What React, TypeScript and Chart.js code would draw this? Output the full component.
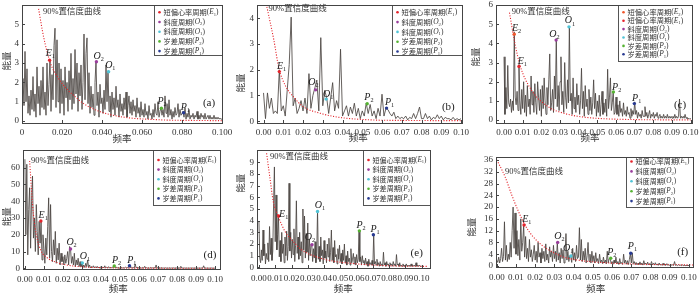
import React, { useEffect, useRef } from 'react';
import { Chart, registerables } from 'chart.js';
Chart.register(...registerables);

// ---------------- DATA ----------------
const STEP_FINE = 0.0005;
const STEP_COARSE = 0.001;

// (a) spectrum power, frequency = index * STEP_FINE
const powerA = [
  0.5, 2.2, 0.8, 3.6, 1.0, 2.7, 0.4, 1.3, 0.3, 1.6, 0.6,
  2.3, 0.5, 1.4, 0.2, 2.8, 0.9, 1.8, 0.3, 2.1, 0.7,
  2.8, 0.6, 1.5, 0.3, 3.0, 0.8, 1.9, 3.2, 0.5, 2.4,
  1.1, 3.9, 4.8, 0.7, 4.2, 1.0, 3.0, 0.4, 2.7, 0.9,
  2.1, 0.3, 2.8, 1.2, 2.0, 0.5, 2.6, 1.1, 3.5, 0.6,
  2.2, 0.9, 3.7, 1.4, 3.0, 0.5, 2.5, 1.3, 2.9, 0.6,
  2.0, 4.5, 1.1, 3.5, 4.3, 0.9, 2.5, 0.4, 1.8, 0.7,
  1.4, 0.3, 2.0, 3.1, 0.8, 1.5, 0.2, 1.9, 0.9, 1.2,
  0.4, 1.6, 0.6, 2.9, 1.0, 2.6, 0.5, 1.3, 0.2, 1.5,
  0.6, 1.2, 0.3, 1.8, 0.7, 1.1, 0.2, 1.4, 0.5, 0.9,
  0.3, 1.2, 0.6, 1.5, 0.2, 0.8, 1.3, 0.4, 1.0, 0.3,
  1.1, 0.5, 0.8, 0.2, 1.2, 0.4, 0.7, 0.2, 1.0, 0.3,
  0.6, 0.2, 0.9, 0.3, 0.5, 0.1, 0.8, 0.3, 0.4, 0.1,
  0.6, 0.2, 0.9, 0.4, 0.3, 1.0, 0.2, 0.5, 0.7, 0.3,
  0.6, 0.2, 1.3, 0.4, 0.9, 0.2, 1.1, 0.3, 0.6, 0.1,
  0.5, 0.2, 0.7, 0.3, 0.4, 0.9, 0.2, 0.6, 0.3, 0.4,
  0.5, 0.2, 0.7, 0.1, 0.4, 0.2, 0.6, 0.1, 0.3, 0.2,
  0.4, 0.1, 0.3, 0.2, 0.5, 0.1, 0.3, 0.1, 0.4, 0.2,
  0.3, 0.1, 0.4, 0.1, 0.2, 0.3, 0.1, 0.3, 0.1, 0.2,
  0.1, 0.3, 0.1, 0.2, 0.1, 0.2, 0.1, 0.15, 0.1, 0.1,
];

// (b) spectrum power, frequency = index * STEP_COARSE
const powerB = [
  1.1, 0.1, 1.1, 0.5, 0.9, 0.3, 0.4, 0.3, 2.0, 0.4,
  0.6, 0.2, 1.2, 2.2, 4.05, 0.6, 0.9, 0.3, 0.5, 0.8,
  0.4, 0.9, 0.3, 1.85, 0.5, 1.0, 1.3, 1.6, 0.4, 3.25,
  0.6, 1.2, 0.9, 0.3, 0.9, 1.5, 0.4, 0.8, 0.5, 2.8,
  0.2, 0.4, 0.6, 0.2, 0.55, 0.3, 0.7, 0.2, 0.5, 0.1,
  0.4, 0.2, 0.7, 0.3, 0.65, 0.2, 0.4, 0.1, 0.5, 0.2,
  1.05, 0.2, 0.5, 0.45, 0.3, 0.2, 0.35, 0.1, 0.2, 0.1,
  0.15, 0.1, 0.2, 0.05, 0.15, 0.1, 0.3, 0.1, 0.3, 0.55,
  0.1, 0.1, 0.3, 0.1, 0.2, 0.05, 0.15, 0.1, 0.25, 0.1,
  0.2, 0.05, 0.15, 0.1, 0.1, 0.05, 0.15, 0.05, 0.1, 0.05, 0.1,
];

// (c) spectrum power, frequency = index * STEP_FINE
const powerC = [
  3.3, 0.3, 1.7, 0.6, 2.85, 0.9, 0.7, 1.1, 0.4, 1.0, 0.5,
  4.6, 1.2, 0.8, 1.5, 0.5, 2.9, 1.0, 0.3, 1.6, 0.6,
  2.0, 0.4, 1.3, 0.2, 1.8, 0.7, 1.1, 0.3, 2.3, 0.8,
  1.5, 0.4, 1.9, 0.9, 0.3, 2.0, 1.2, 0.5, 1.6, 0.2,
  1.8, 0.6, 2.2, 1.0, 0.3, 1.7, 0.8, 2.1, 3.45, 0.5,
  0.9, 1.6, 0.4, 2.3, 1.1, 4.25, 0.7, 1.8, 0.5, 2.0,
  3.3, 0.8, 1.5, 0.4, 3.0, 1.2, 0.6, 2.1, 0.9, 4.9,
  1.0, 1.4, 0.3, 2.2, 0.6, 1.2, 0.4, 1.9, 0.8, 1.3,
  0.3, 1.0, 2.7, 0.6, 1.5, 0.2, 1.8, 0.7, 1.1, 0.3,
  1.6, 0.5, 1.2, 0.3, 0.9, 2.1, 0.6, 1.4, 0.2, 1.0,
  0.4, 1.3, 0.2, 0.8, 1.5, 0.3, 0.9, 0.4, 1.1, 0.2,
  2.65, 0.6, 1.2, 2.2, 0.5, 0.9, 1.5, 0.3, 0.4, 1.2,
  0.3, 0.8, 0.2, 1.0, 0.4, 0.6, 0.2, 0.9, 0.3, 0.5,
  0.2, 0.7, 0.3, 0.4, 0.1, 0.6, 0.2, 0.5, 0.3, 0.95,
  0.3, 0.5, 0.1, 0.4, 0.2, 0.3, 0.1, 0.5, 0.2, 0.2,
  0.7, 0.2, 0.4, 0.1, 0.3, 0.5, 0.1, 0.3, 0.2, 0.4,
  0.1, 0.3, 0.2, 0.4, 0.1, 0.2, 0.3, 0.1, 0.2, 0.1,
  0.3, 0.1, 0.2, 0.1, 0.3, 0.1, 0.2, 0.1, 0.2, 0.1,
  0.2, 0.1, 0.3, 0.1, 0.2, 0.1, 0.2, 1.1, 0.1, 0.2,
  0.1, 0.2, 0.1, 0.3, 0.1, 0.15, 0.05, 0.1, 0.05, 0.1,
];

// (d) spectrum power, frequency = index * STEP_FINE
const powerD = [
  65, 20, 62, 8, 35, 48, 12, 40, 55, 18, 30,
  10, 38, 22, 8, 28, 15, 28, 5, 20, 12,
  3, 18, 8, 25, 42, 6, 38, 10, 4, 17,
  8, 22, 3, 12, 5, 15, 2, 9, 4, 7,
  2, 8, 3, 6, 10, 2, 13, 11.5, 3, 7,
  2, 9, 1, 5, 2, 6, 1, 4, 1, 3.5,
  1, 2, 0.5, 3, 1, 5, 0.5, 2, 0.3, 1,
  0.5, 1.5, 0.3, 1, 0.2, 1.2, 0.3, 0.8, 0.2, 1,
  0.3, 0.8, 0.2, 1.5, 0.3, 0.6, 0.2, 1, 0.2, 0.5,
  0.2, 0.8, 0.3, 1.5, 0.3, 0.7, 0.2, 0.5, 0.1, 0.4,
  0.2, 0.6, 0.1, 0.4, 0.2, 0.7, 0.2, 0.5, 0.1, 1.8,
  0.3, 0.9, 0.2, 0.5, 0.1, 2.5, 0.3, 0.8, 0.2, 0.6,
  0.2, 0.4, 0.1, 0.5, 0.1, 1.2, 0.2, 0.4, 0.1, 0.3,
  0.1, 0.5, 0.2, 0.3, 0.1, 0.4, 0.1, 2.0, 0.2, 0.3,
  0.1, 0.3, 0.1, 0.4, 0.1, 0.2, 0.1, 0.3, 0.1, 0.2,
  0.1, 0.3, 0.1, 0.2, 0.1, 0.3, 0.1, 0.2, 0.1, 0.3,
  0.1, 0.2, 0.1, 1.2, 0.1, 0.2, 0.1, 0.2, 0.1, 0.2,
  0.1, 0.2, 0.1, 0.2, 0.1, 0.2, 0.1, 0.2, 0.1, 0.2,
  0.1, 0.2, 0.1, 0.2, 0.1, 0.2, 0.1, 1.5, 0.1, 0.2,
  0.1, 0.2, 0.1, 0.1, 0.1, 0.2, 0.1, 0.1, 0.1, 0.1,
];

// (e) spectrum power, frequency = index * STEP_FINE
const powerE = [
  3.9, 0.8, 0.4, 1.5, 0.6, 3.2, 1.0, 2.0, 0.3, 1.2, 0.7,
  2.1, 0.5, 3.5, 1.1, 2.5, 0.6, 1.4, 5.5, 8.6, 2.2,
  6.2, 1.5, 2.8, 4.4, 0.9, 2.3, 0.5, 3.0, 1.2, 2.0,
  0.4, 2.6, 1.0, 3.1, 0.6, 1.8, 7.2, 1.4, 3.0, 0.8,
  2.4, 1.1, 3.3, 0.5, 1.9, 5.7, 1.2, 2.6, 0.7, 3.0,
  1.0, 2.2, 0.4, 5.0, 1.5, 4.4, 0.8, 2.9, 1.3, 3.8,
  0.6, 2.4, 1.0, 2.0, 1.9, 0.5, 1.6, 0.8, 2.2, 0.4,
  1.2, 4.9, 0.7, 1.8, 0.5, 2.6, 1.0, 1.5, 0.3, 2.3,
  0.8, 1.4, 0.4, 2.0, 0.9, 2.5, 0.5, 1.3, 3.2, 0.6,
  1.7, 0.4, 2.3, 0.9, 1.1, 0.3, 1.6, 0.7, 1.9, 0.5,
  1.2, 0.3, 1.5, 0.6, 2.0, 0.4, 1.0, 0.2, 1.4, 0.5,
  0.8, 0.2, 1.6, 0.4, 0.7, 1.2, 0.3, 0.9, 0.2, 1.1,
  0.4, 0.7, 3.1, 0.5, 0.9, 0.2, 1.0, 0.4, 0.6, 0.2,
  0.8, 0.3, 0.5, 0.1, 0.7, 0.3, 0.4, 0.2, 0.6, 0.2,
  2.8, 0.3, 0.5, 0.2, 0.7, 0.2, 0.4, 0.1, 0.5, 0.2,
  0.3, 0.1, 1.3, 0.2, 0.4, 0.1, 0.5, 0.2, 0.3, 0.1,
  0.4, 0.2, 0.3, 0.1, 0.5, 0.2, 0.3, 0.1, 1.1, 0.2,
  0.3, 0.1, 0.4, 0.1, 0.2, 0.1, 0.3, 0.1, 0.2, 0.1,
  0.3, 0.1, 0.2, 0.1, 0.2, 0.1, 0.3, 0.1, 0.2, 0.1,
  0.2, 0.1, 0.4, 0.1, 0.2, 0.1, 0.2, 0.1, 0.1, 0.1,
];

// (f) spectrum power, frequency = index * STEP_FINE
const powerF = [
  2.0, 1.2, 3.0, 1.0, 2.5, 6.0, 1.5, 3.2, 15.0, 2.0, 7.0,
  1.5, 4.0, 2.2, 8.0, 3.0, 12.0, 20.0, 6.0, 18.0, 4.0,
  12.0, 3.5, 9.0, 2.0, 16.0, 5.0, 8.0, 13.9, 3.0, 10.0,
  2.5, 6.0, 1.5, 9.0, 3.0, 5.5, 1.5, 4.0, 7.0, 2.0,
  5.0, 1.2, 8.0, 3.0, 4.5, 1.0, 6.0, 2.5, 5.0, 1.5,
  7.5, 2.0, 4.0, 1.0, 6.5, 3.0, 5.0, 1.5, 7.0, 2.5,
  5.0, 1.5, 8.0, 2.0, 4.5, 1.0, 6.0, 2.5, 5.5, 1.0,
  4.0, 11.0, 2.0, 5.0, 1.5, 3.5, 3.4, 1.2, 6.0, 2.0,
  4.5, 1.5, 7.0, 2.5, 3.0, 13.0, 2.0, 9.0, 1.5, 5.0,
  2.0, 6.0, 1.0, 3.5, 8.0, 1.5, 4.0, 1.0, 5.0, 1.5,
  3.5, 1.0, 4.5, 1.5, 2.5, 0.8, 4.0, 1.2, 2.0, 0.8,
  3.0, 1.0, 2.0, 0.7, 5.0, 1.0, 2.5, 2.6, 0.8, 1.5,
  0.6, 2.0, 1.0, 3.0, 0.7, 1.5, 0.5, 2.5, 0.8, 1.2,
  0.5, 4.0, 1.0, 2.0, 0.6, 1.8, 0.5, 2.2, 4.3, 1.0,
  4.5, 0.8, 1.5, 0.5, 1.2, 0.4, 1.0, 0.5, 1.4, 0.4,
  1.0, 0.3, 1.8, 0.5, 1.0, 0.3, 1.3, 0.4, 0.8, 0.3,
  1.5, 0.4, 0.9, 0.3, 1.1, 0.3, 0.7, 0.2, 1.0, 0.3,
  0.6, 0.2, 0.9, 0.3, 0.5, 0.2, 0.8, 0.2, 0.5, 0.2,
  0.6, 0.2, 0.4, 0.2, 1.5, 0.2, 0.4, 0.1, 0.5, 0.2,
  0.3, 0.1, 0.4, 0.1, 0.3, 0.1, 0.2, 0.1, 0.2, 0.1,
];

// 90% confidence curves (read points)
const confFreqA = [0.0083, 0.0108, 0.0142, 0.0183, 0.0225, 0.0267, 0.0308, 0.0392, 0.0475, 0.0558, 0.0642, 0.0725, 0.089, 0.1];
const confPowerA = [5.8, 4.35, 3.0, 2.2, 1.65, 1.25, 0.9, 0.48, 0.26, 0.14, 0.09, 0.05, 0.03, 0.02];
const confFreqB = [0.0017, 0.0052, 0.0078, 0.0113, 0.0157, 0.02, 0.0287, 0.0374, 0.0548, 0.072, 0.1];
const confPowerB = [4.45, 3.17, 2.06, 1.35, 0.9, 0.57, 0.31, 0.16, 0.05, 0.03, 0.02];
const confFreqC = [0.0029, 0.0059, 0.0086, 0.0148, 0.0238, 0.0327, 0.0416, 0.0505, 0.0684, 0.1];
const confPowerC = [5.6, 3.97, 2.84, 1.55, 0.69, 0.34, 0.17, 0.09, 0.03, 0.01];
const confFreqD = [0.0025, 0.0035, 0.0045, 0.006, 0.0085, 0.012, 0.016, 0.022, 0.03, 0.045, 0.07, 0.1];
const confPowerD = [64, 46, 32, 20, 10.5, 6, 3.8, 2.0, 0.9, 0.3, 0.1, 0.05];
const confFreqE = [0.0047, 0.0068, 0.0088, 0.0119, 0.016, 0.0211, 0.0262, 0.0365, 0.0467, 0.057, 0.0672, 0.0877, 0.104];
const confPowerE = [9.77, 7.6, 5.64, 4.36, 3.08, 2.22, 1.51, 0.85, 0.51, 0.34, 0.23, 0.11, 0.09];
const confFreqF = [0, 0.0009, 0.0043, 0.0078, 0.0113, 0.0147, 0.0182, 0.0234, 0.0286, 0.0355, 0.0442, 0.0529, 0.0702, 0.0875, 0.1022];
const confPowerF = [36, 34.9, 30.3, 24.1, 18.5, 13.9, 10.5, 7.1, 4.9, 2.9, 1.8, 1.25, 0.68, 0.45, 0.35];

// marked cycles
const markerKeysA = ['E1', 'O2', 'O1', 'P2', 'P1'];
const markerFreqA = [0.0138, 0.0372, 0.0433, 0.0697, 0.0808];
const markerPowerA = [3.15, 3.07, 2.55, 0.66, 0.43];
const markerKeysB = ['E1', 'O2', 'O1', 'P2', 'P1'];
const markerFreqB = [0.008, 0.0264, 0.0317, 0.0525, 0.0623];
const markerPowerB = [1.93, 1.22, 0.86, 0.68, 0.51];
const markerKeysC = ['E2', 'E1', 'O2', 'O1', 'P2', 'P1'];
const markerFreqC = [0.0055, 0.008, 0.0279, 0.0348, 0.0586, 0.0698];
const markerPowerC = [4.48, 2.8, 4.17, 4.86, 1.47, 0.86];
const markerKeysD = ['E1', 'O2', 'O1', 'P2', 'P1'];
const markerFreqD = [0.0084, 0.024, 0.0302, 0.047, 0.055];
const markerPowerD = [28.2, 11.5, 3.2, 1.4, 1.6];
const markerKeysE = ['E1', 'O2', 'O1', 'P2', 'P1'];
const markerFreqE = [0.0121, 0.0326, 0.036, 0.0617, 0.0703];
const markerPowerE = [4.4, 1.94, 4.79, 3.13, 2.8];
const markerKeysF = ['E1', 'O2', 'O1', 'P2', 'P1'];
const markerFreqF = [0.0142, 0.0317, 0.0386, 0.0593, 0.0697];
const markerPowerF = [13.9, 8.0, 3.4, 2.6, 4.3];

// ticks
const xTicksA = [0, 0.02, 0.04, 0.06, 0.08, 0.1];
const xTickLabelsA = ['0', '0.020', '0.040', '0.060', '0.080', '0.100'];
const xTicksB = [0, 0.01, 0.02, 0.03, 0.04, 0.05, 0.06, 0.07, 0.08, 0.09, 0.1];
const xTickLabelsB = ['0.00', '0.01', '0.02', '0.03', '0.04', '0.05', '0.06', '0.07', '0.08', '0.09', '0.10'];
const yTicksA = [0, 1, 2, 3, 4, 5];
const yTicksB = [0, 1, 2, 3, 4];
const yTicksC = [0, 1, 2, 3, 4, 5, 6];
const yTicksD = [0, 10, 20, 30, 40, 50, 60];
const yTicksE = [0, 1, 2, 3, 4, 5, 6, 7, 8, 9];
const yTicksF = [0, 4, 8, 12, 16, 20, 24, 28, 32, 36];

const panelLabels = ['(a)', '(b)', '(c)', '(d)', '(e)', '(f)'];

// ---------------- STYLE / LAYOUT ----------------
const SERIF = '"Liberation Serif", "Times New Roman", serif';
const CJK = '"Noto Sans CJK SC", sans-serif';
const MIX = '"Liberation Serif", "Noto Sans CJK SC", serif';
const COLORS: Record<string, string> = {
  E1: '#e5232b', E2: '#f0572c', O2: '#9a3d9c', O1: '#4fc3d6', P2: '#55b332', P1: '#283a92',
};
const NAMES: Record<string, string> = { E: '短偏心率周期', O: '斜度周期', P: '岁差周期' };

type Panel = {
  cx: number; cy: number; cw: number; ch: number;
  L: number; T: number; R: number; B: number;
  xmin: number; xmax: number; ymin: number; ymax: number;
  step: number; power: number[];
  confF: number[]; confP: number[];
  mKeys: string[]; mF: number[]; mP: number[]; mOff: number[][];
  xTicks: number[]; xLabels: string[]; yTicks: number[];
  xPad: number;
  legend: { w: number; h: number; first: number; gap: number };
  confLabel: [number, number];
  panelLabel: string; plOff: [number, number];
  xTitle: [number, number]; yTitle: [number, number];
};

const panels: Panel[] = [
  {
    cx: 0, cy: 0, cw: 245, ch: 145, L: 22, T: 5, R: 222, B: 123,
    xmin: 0, xmax: 0.1, ymin: -0.1, ymax: 6.0, step: STEP_FINE, power: powerA,
    confF: confFreqA, confP: confPowerA,
    mKeys: markerKeysA, mF: markerFreqA, mP: markerPowerA,
    mOff: [[0.7, -6.7], [2.3, -5.7], [1.7, -6.7], [0.7, -6.7], [1.7, -5.3]],
    xTicks: xTicksA, xLabels: xTickLabelsA, yTicks: yTicksA, xPad: 4,
    legend: { w: 68, h: 50, first: 7.3, gap: 9.7 },
    confLabel: [21, 7], panelLabel: panelLabels[0], plOff: [13, 20],
    xTitle: [122, 138.5], yTitle: [6, 61],
  },
  {
    cx: 235, cy: 0, cw: 240, ch: 145, L: 22, T: 5, R: 227, B: 123,
    xmin: -0.0033, xmax: 0.1005, ymin: -0.07, ymax: 4.52, step: STEP_COARSE, power: powerB,
    confF: confFreqB, confP: confPowerB,
    mKeys: markerKeysB, mF: markerFreqB, mP: markerPowerB,
    mOff: [[2.3, -5], [-2.3, -7.7], [2, -5], [1.7, -6.3], [3, -5.7]],
    xTicks: xTicksB, xLabels: xTickLabelsB, yTicks: yTicksB, xPad: 4,
    legend: { w: 70, h: 50, first: 7.3, gap: 9.8 },
    confLabel: [11.6, 3.5], panelLabel: panelLabels[1], plOff: [13.7, 15.7],
    xTitle: [123.3, 137.5], yTitle: [5, 83],
  },
  {
    cx: 465, cy: 0, cw: 235, ch: 145, L: 31, T: 5, R: 227, B: 123,
    xmin: -0.0043, xmax: 0.1007, ymin: -0.15, ymax: 6.0, step: STEP_FINE, power: powerC,
    confF: confFreqC, confP: confPowerC,
    mKeys: markerKeysC, mF: markerFreqC, mP: markerPowerC,
    mOff: [[2.3, -6], [3.3, -5.3], [-1.7, -6], [1, -6], [3.3, -4.3], [2.3, -5.7]],
    xTicks: xTicksB, xLabels: xTickLabelsB, yTicks: yTicksC, xPad: 4,
    legend: { w: 74, h: 56, first: 7.3, gap: 8.4 },
    confLabel: [15.7, 6.7], panelLabel: panelLabels[2], plOff: [12, 17.7],
    xTitle: [125, 137.5], yTitle: [10.7, 57],
  },
  {
    cx: 0, cy: 145, cw: 245, ch: 148, L: 23, T: 5, R: 220, B: 124,
    xmin: -0.001, xmax: 0.1026, ymin: -0.4, ymax: 70.5, step: STEP_FINE, power: powerD,
    confF: confFreqD, confP: confPowerD,
    mKeys: markerKeysD, mF: markerFreqD, mP: markerPowerD,
    mOff: [[2.3, -5.3], [1, -6.3], [2.7, -6.3], [2.3, -5.7], [2.3, -5.7]],
    xTicks: xTicksB, xLabels: xTickLabelsB, yTicks: yTicksD, xPad: 5,
    legend: { w: 67, h: 55, first: 10, gap: 9.6 },
    confLabel: [8, 11], panelLabel: panelLabels[3], plOff: [10, 14],
    xTitle: [118.3, 143], yTitle: [6, 71.7],
  },
  {
    cx: 235, cy: 145, cw: 240, ch: 148, L: 22, T: 5, R: 195, B: 123,
    xmin: -0.0012, xmax: 0.1051, ymin: -0.05, ymax: 10.05, step: STEP_FINE, power: powerE,
    confF: confFreqE, confP: confPowerE,
    mKeys: markerKeysE, mF: markerFreqE, mP: markerPowerE,
    mOff: [[5, -2], [-2, -7], [2.3, -5.7], [1.7, -5.3], [1.7, -5]],
    xTicks: xTicksB, xLabels: xTickLabelsB, yTicks: yTicksE, xPad: 5,
    legend: { w: 67, h: 55, first: 10, gap: 9.6 },
    confLabel: [13, 6.7], panelLabel: panelLabels[4], plOff: [13.3, 15.3],
    xTitle: [108.3, 143], yTitle: [5, 38.3],
  },
  {
    cx: 465, cy: 145, cw: 235, ch: 148, L: 31, T: 12, R: 228, B: 122,
    xmin: -0.0004, xmax: 0.1021, ymin: -0.35, ymax: 37, step: STEP_FINE, power: powerF,
    confF: confFreqF, confP: confPowerF,
    mKeys: markerKeysF, mF: markerFreqF, mP: markerPowerF,
    mOff: [[2.7, -6], [1.7, -5.7], [-2.7, -7.7], [1, -6], [1.7, -6.7]],
    xTicks: xTicksB, xLabels: xTickLabelsB, yTicks: yTicksF, xPad: 5,
    legend: { w: 67, h: 50, first: 4.5, gap: 9.9 },
    confLabel: [9, 14.7], panelLabel: panelLabels[5], plOff: [10.3, 15.3],
    xTitle: [130.7, 143.5], yTitle: [6.7, 82.3],
  },
];

// ---------------- DRAWING HELPERS ----------------
function symWidth(ctx: CanvasRenderingContext2D, key: string, size: number) {
  ctx.font = `italic ${size}px ${SERIF}`;
  const w1 = ctx.measureText(key[0]).width;
  ctx.font = `${size * 0.62}px ${SERIF}`;
  const w2 = ctx.measureText(key.slice(1)).width;
  return w1 + w2;
}

function drawSym(ctx: CanvasRenderingContext2D, key: string, x: number, y: number, size: number) {
  ctx.textAlign = 'left';
  ctx.textBaseline = 'middle';
  ctx.font = `italic ${size}px ${SERIF}`;
  const w1 = ctx.measureText(key[0]).width;
  ctx.fillText(key[0], x, y);
  ctx.font = `${size * 0.62}px ${SERIF}`;
  ctx.fillText(key.slice(1), x + w1, y + size * 0.3);
  return w1 + ctx.measureText(key.slice(1)).width;
}

function legendLineWidth(ctx: CanvasRenderingContext2D, key: string, cjk: number, lat: number) {
  ctx.font = `${cjk}px ${CJK}`;
  let w = ctx.measureText(NAMES[key[0]]).width;
  ctx.font = `${lat}px ${SERIF}`;
  w += ctx.measureText('()').width;
  w += symWidth(ctx, key, lat);
  return w;
}

function drawDecor(chart: any, p: Panel) {
  const ctx: CanvasRenderingContext2D = chart.ctx;
  const area = chart.chartArea;
  const xs = chart.scales.x;
  const ys = chart.scales.y;
  const left = Math.round(area.left), right = Math.round(area.right);
  const top = Math.round(area.top), bottom = Math.round(area.bottom);
  ctx.save();

  // inward tick marks
  ctx.strokeStyle = '#444';
  ctx.lineWidth = 1;
  ctx.beginPath();
  p.xTicks.forEach((v) => {
    const px = Math.round(xs.getPixelForValue(v)) + 0.5;
    ctx.moveTo(px, bottom);
    ctx.lineTo(px, bottom - 3);
  });
  p.yTicks.forEach((v) => {
    const py = Math.round(ys.getPixelForValue(v)) + 0.5;
    ctx.moveTo(left, py);
    ctx.lineTo(left + 3, py);
  });
  ctx.stroke();

  // confidence label
  ctx.fillStyle = '#333';
  ctx.font = `8.5px ${MIX}`;
  ctx.textAlign = 'left';
  ctx.textBaseline = 'middle';
  ctx.fillText('90%置信度曲线', area.left + p.confLabel[0], area.top + p.confLabel[1]);

  // marker labels
  p.mKeys.forEach((k, i) => {
    const mx = xs.getPixelForValue(p.mF[i]) + p.mOff[i][0];
    const my = ys.getPixelForValue(p.mP[i]) + p.mOff[i][1];
    const w = symWidth(ctx, k, 10);
    ctx.fillStyle = '#222';
    drawSym(ctx, k, mx - w / 2, my, 10);
  });

  // legend box
  const lg = p.legend;
  const bx = right - lg.w;
  const by = top;
  ctx.fillStyle = '#fff';
  ctx.fillRect(bx, by, lg.w, lg.h);
  ctx.strokeStyle = '#555';
  ctx.lineWidth = 1;
  ctx.strokeRect(bx + 0.5, by + 0.5, lg.w, lg.h);
  // fit legend text inside the box
  let cjk = 7.3, lat = 7.5;
  const maxW = Math.max(...p.mKeys.map((k) => legendLineWidth(ctx, k, cjk, lat)));
  const avail = lg.w - 13;
  if (maxW > avail) {
    const s = avail / maxW;
    cjk *= s;
    lat *= s;
  }
  p.mKeys.forEach((k, i) => {
    const y = by + lg.first + i * lg.gap;
    ctx.fillStyle = COLORS[k];
    ctx.beginPath();
    ctx.arc(bx + 5.5, y, 1.3, 0, Math.PI * 2);
    ctx.fill();
    ctx.fillStyle = '#333';
    ctx.textAlign = 'left';
    ctx.textBaseline = 'middle';
    ctx.font = `${cjk}px ${CJK}`;
    let x = bx + 9.5;
    const name = NAMES[k[0]];
    ctx.fillText(name, x, y);
    x += ctx.measureText(name).width;
    ctx.font = `${lat}px ${SERIF}`;
    ctx.fillText('(', x, y);
    x += ctx.measureText('(').width;
    x += drawSym(ctx, k, x, y, lat);
    ctx.font = `${lat}px ${SERIF}`;
    ctx.fillText(')', x, y);
  });

  // frame
  ctx.strokeStyle = '#444';
  ctx.lineWidth = 1;
  ctx.strokeRect(left + 0.5, top + 0.5, right - left, bottom - top);

  // panel label
  ctx.fillStyle = '#222';
  ctx.font = `11px ${SERIF}`;
  ctx.textAlign = 'center';
  ctx.textBaseline = 'middle';
  ctx.fillText(p.panelLabel, right - p.plOff[0], bottom - p.plOff[1]);

  // axis titles
  ctx.fillStyle = '#333';
  ctx.font = `9.5px ${CJK}`;
  ctx.fillText('频率', p.xTitle[0], p.xTitle[1]);
  ctx.save();
  ctx.translate(p.yTitle[0], p.yTitle[1]);
  ctx.rotate(-Math.PI / 2);
  ctx.fillText('能量', 0, 0);
  ctx.restore();

  ctx.restore();
}

function buildConfig(p: Panel): any {
  const spectrum = p.power.map((v, i) => ({ x: i * p.step, y: v }));
  const conf = p.confF.map((f, i) => ({ x: f, y: p.confP[i] }));
  const markers = p.mKeys.map((k, i) => ({
    data: [{ x: p.mF[i], y: p.mP[i] }],
    showLine: false,
    pointRadius: 1.7,
    pointBackgroundColor: COLORS[k],
    pointBorderColor: COLORS[k],
    pointBorderWidth: 0,
    order: 0,
  }));
  const tickFont = { family: SERIF, size: 9 };
  return {
    type: 'line',
    data: {
      datasets: [
        { data: spectrum, borderColor: '#4a4541', borderWidth: 0.85, pointRadius: 0, tension: 0, order: 2 },
        {
          data: conf, borderColor: '#e3262d', borderWidth: 1.1, borderDash: [1.1, 1.6],
          pointRadius: 0, cubicInterpolationMode: 'monotone', order: 1,
        },
        ...markers,
      ],
    },
    options: {
      responsive: false,
      animation: false,
      events: [],
      layout: { padding: { left: 0, top: p.T, right: p.cw - p.R, bottom: 0 } },
      plugins: { legend: { display: false }, tooltip: { enabled: false } },
      scales: {
        x: {
          type: 'linear', min: p.xmin, max: p.xmax,
          grid: { display: false, drawTicks: false }, border: { display: false },
          afterBuildTicks: (s: any) => { s.ticks = p.xTicks.map((v) => ({ value: v })); },
          afterFit: (s: any) => { s.height = p.ch - p.B; s.paddingLeft = 0; s.paddingRight = 0; },
          ticks: {
            autoSkip: false, maxRotation: 0, minRotation: 0, padding: p.xPad,
            font: tickFont, color: '#333',
            callback: (_v: any, i: number) => p.xLabels[i],
          },
        },
        y: {
          type: 'linear', min: p.ymin, max: p.ymax,
          grid: { display: false, drawTicks: false }, border: { display: false },
          afterBuildTicks: (s: any) => { s.ticks = p.yTicks.map((v) => ({ value: v })); },
          afterFit: (s: any) => { s.width = p.L; s.paddingTop = 0; s.paddingBottom = 0; },
          ticks: {
            autoSkip: false, padding: 3, font: tickFont, color: '#333',
            callback: (v: any) => String(v),
          },
        },
      },
    },
    plugins: [{ id: 'decor', afterDatasetsDraw: (chart: any) => drawDecor(chart, p) }],
  };
}

function PanelChart({ p }: { p: Panel }) {
  const ref = useRef<HTMLCanvasElement>(null);
  useEffect(() => {
    const chart = new Chart(ref.current as HTMLCanvasElement, buildConfig(p));
    return () => chart.destroy();
  }, [p]);
  return (
    <canvas
      ref={ref}
      width={p.cw}
      height={p.ch}
      style={{ position: 'absolute', left: p.cx, top: p.cy, width: p.cw, height: p.ch }}
    />
  );
}

export default function App() {
  return (
    <div style={{ position: 'absolute', left: 0, top: 0, width: 700, height: 293, background: '#fff', overflow: 'hidden' }}>
      {panels.map((p, i) => (
        <PanelChart key={i} p={p} />
      ))}
    </div>
  );
}
